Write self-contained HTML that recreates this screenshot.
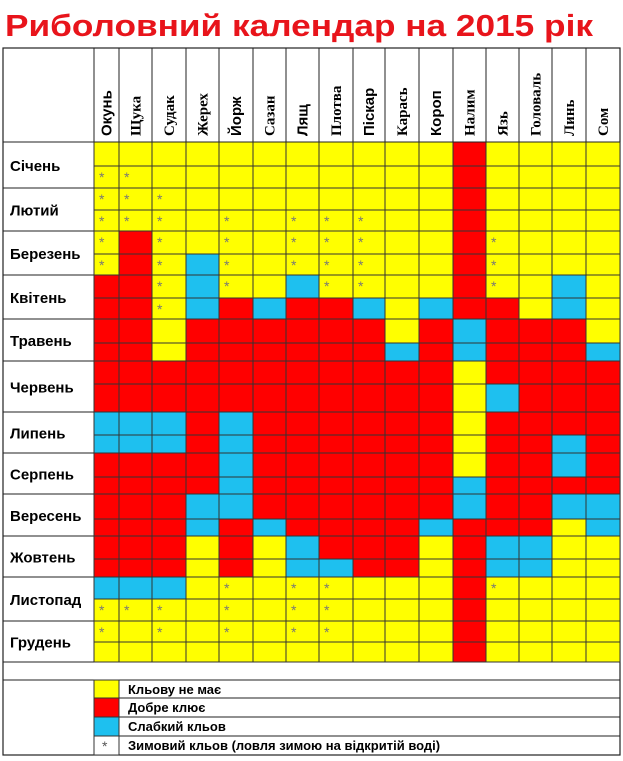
<!DOCTYPE html>
<html><head><meta charset="utf-8">
<style>
html,body{margin:0;padding:0;background:#fff;}
svg{display:block;}
</style></head>
<body>
<svg id="chart" width="623" height="761" viewBox="0 0 623 761" xmlns="http://www.w3.org/2000/svg">
<rect x="0" y="0" width="623" height="761" fill="#fff"/>
<text x="5" y="36" font-family="Liberation Sans, sans-serif" font-weight="bold" font-size="31" fill="#e8141b" textLength="588" lengthAdjust="spacingAndGlyphs">Риболовний календар на 2015 рік</text>
<g id="grid"></g>
<g id="legend"></g>
</svg>
<script>
const fish = ["Окунь","Щука","Судак","Жерех","Йорж","Сазан","Лящ","Плотва","Піскар","Карась","Короп","Налим","Язь","Головаль","Линь","Сом"];
const months = ["Січень","Лютий","Березень","Квітень","Травень","Червень","Липень","Серпень","Вересень","Жовтень","Листопад","Грудень"];
// Y = no bite, R = good bite, B = weak bite, y = no bite + winter bite (*)
const halfRows = [
 "YYYYYYYYYYYRYYYY",
 "yyYYYYYYYYYRYYYY",
 "yyyYYYYYYYYRYYYY",
 "yyyYyYyyyYYRYYYY",
 "yRyYyYyyyYYRyYYY",
 "yRyByYyyyYYRyYYY",
 "RRyByYByyYYRyYBY",
 "RRyBRBRRBYBRRYBY",
 "RRYRRRRRRYRBRRRY",
 "RRYRRRRRRBRBRRRB",
 "RRRRRRRRRRRYRRRR",
 "RRRRRRRRRRRYBRRR",
 "BBBRBRRRRRRYRRRR",
 "BBBRBRRRRRRYRRBR",
 "RRRRBRRRRRRYRRBR",
 "RRRRBRRRRRRBRRRR",
 "RRRBBRRRRRRBRRBB",
 "RRRBRBRRRRBRRRYB",
 "RRRYRYBRRRYRBBYY",
 "RRRYRYBBRRYRBBYY",
 "BBBYyYyyYYYRyYYY",
 "yyyYyYyyYYYRYYYY",
 "yYyYyYyyYYYRYYYY",
 "YYYYYYYYYYYRYYYY"
];
const legendLabels = ["Кльову не має","Добре клює","Слабкий кльов","Зимовий кльов (ловля зимою на відкритій воді)"];
const legendCodes = ["Y","R","B","*"];

const NS="http://www.w3.org/2000/svg";
const colX=[94,119,152,186,219,253,286,319,353,385,419,453,486,519,552,586,620];
const rowY=[142,166,188,210,231,254,275,298,319,343,361,384,412,435,453,477,494,519,536,559,577,599,621,642,662];
const colors={Y:"#ffff00",R:"#ff0000",B:"#1ec0ef"};
function el(tag,attrs,parent){const e=document.createElementNS(NS,tag);for(const k in attrs)e.setAttribute(k,attrs[k]);parent.appendChild(e);return e;}
const g=document.getElementById("grid");
const lg=document.getElementById("legend");
// frame
el("rect",{x:3,y:48,width:617,height:707,fill:"none",stroke:"#222","stroke-width":1.2},g);
// cells
halfRows.forEach((row,r)=>{
  for(let c=0;c<fish.length;c++){
    const code=row[c];
    const fill=colors[code.toUpperCase()];
    const rc=el("rect",{x:colX[c],y:rowY[r],width:colX[c+1]-colX[c],height:rowY[r+1]-rowY[r],fill:fill,stroke:"#333","stroke-width":1},g);
    
    
    if(code==="y"){
      const st=el("text",{x:colX[c]+5,y:rowY[r]+16,"font-family":"Liberation Sans, sans-serif","font-size":14,fill:"#777"},g);
      st.textContent="*";
      
      
    }
  }
});
// header column lines and labels
for(let c=0;c<=fish.length;c++){
  el("line",{x1:colX[c],y1:48,x2:colX[c],y2:142,stroke:"#222","stroke-width":1},g);
}
el("line",{x1:3,y1:142,x2:620,y2:142,stroke:"#222","stroke-width":1},g);
const sansFish=new Set(["Окунь","Йорж","Лящ","Піскар","Короп"]);
fish.forEach((f,c)=>{
  const cx=(colX[c]+colX[c+1])/2+5;
  const t=el("text",{x:cx,y:136,transform:`rotate(-90 ${cx} 136)`,"font-family":sansFish.has(f)?"Liberation Sans, sans-serif":"Liberation Serif, serif","font-weight":"bold","font-size":15,fill:"#000"},g);
  t.textContent=f;
  
  
});
// month labels & separators
months.forEach((m,i)=>{
  const y0=rowY[i*2], y1=rowY[i*2+2];
  el("line",{x1:3,y1:y1,x2:94,y2:y1,stroke:"#222","stroke-width":1},g);
  const t=el("text",{x:10,y:(y0+y1)/2+6,"font-family":"Liberation Sans, sans-serif","font-weight":"bold","font-size":15,fill:"#000"},g);
  t.textContent=m;
  
  
});
// empty row and legend
el("line",{x1:3,y1:680,x2:620,y2:680,stroke:"#222","stroke-width":1},g);
const legY=[680,698,717,736,755];
el("line",{x1:94,y1:680,x2:94,y2:755,stroke:"#222","stroke-width":1},lg);
legendLabels.forEach((lab,i)=>{
  const code=legendCodes[i];
  const sw=el("rect",{x:94,y:legY[i],width:25,height:legY[i+1]-legY[i],fill:code==="*"?"#fff":colors[code],stroke:"#333","stroke-width":1},lg);
  
  
  if(code==="*"){
    const s=el("text",{x:102,y:legY[i]+15,"font-family":"Liberation Sans, sans-serif","font-size":14,fill:"#555"},lg);
    s.textContent="*";
    
    
  }
  el("line",{x1:119,y1:legY[i+1],x2:620,y2:legY[i+1],stroke:"#222","stroke-width":1},lg);
  const t=el("text",{x:128,y:legY[i]+14,"font-family":"Liberation Sans, sans-serif","font-weight":"bold","font-size":13,fill:"#000"},lg);
  t.textContent=lab;
  
  
});
</script>
</body></html>
